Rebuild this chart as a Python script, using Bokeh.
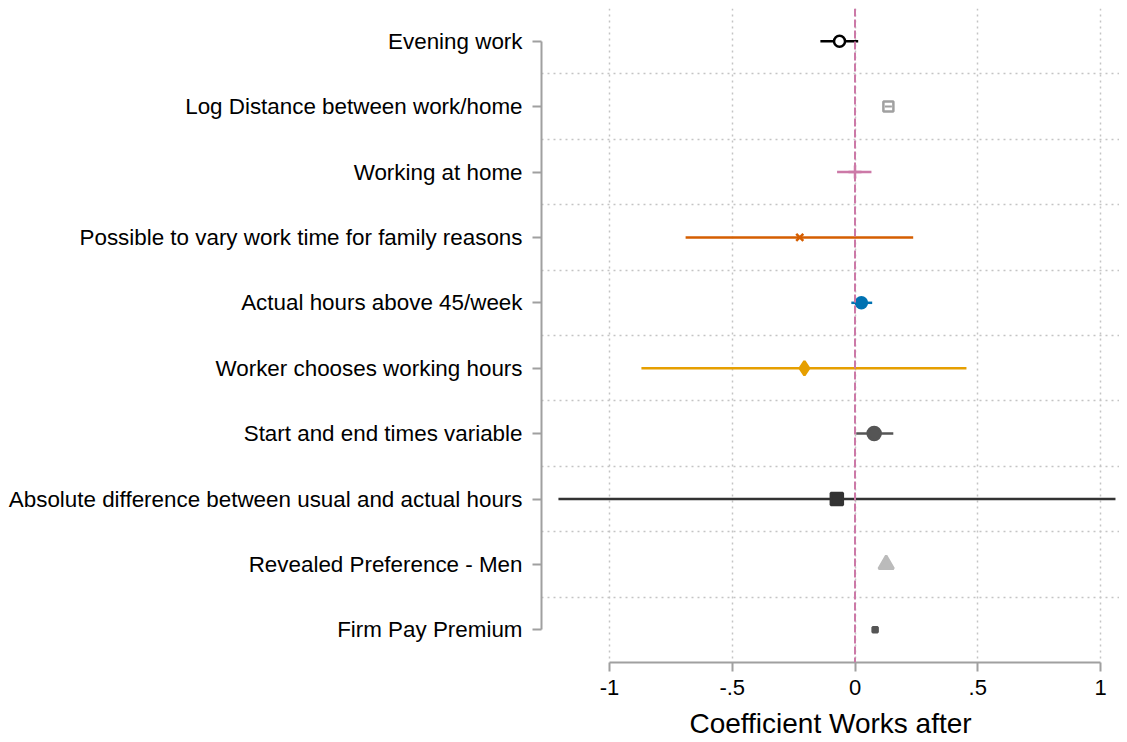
from bokeh.plotting import figure
from bokeh.models import ColumnDataSource, FixedTicker, Range1d, Span
from bokeh.embed import file_html
from bokeh.resources import INLINE

labels = ["Evening work", "Log Distance between work/home", "Working at home",
          "Possible to vary work time for family reasons", "Actual hours above 45/week",
          "Worker chooses working hours", "Start and end times variable",
          "Absolute difference between usual and actual hours",
          "Revealed Preference - Men", "Firm Pay Premium"]
coef = [-0.063, 0.136, 0.0, -0.225, 0.026, -0.206, 0.078, -0.074, 0.127, 0.082]
ci_lo = [-0.141, 0.136, -0.073, -0.69, -0.015, -0.87, 0.005, -1.208, 0.127, 0.082]
ci_hi = [0.013, 0.136, 0.067, 0.237, 0.07, 0.454, 0.156, 1.061, 0.127, 0.082]
colors = ["#000000", "#a0a0a0", "#cc79a7", "#d55e00", "#0072b2",
          "#e69f00", "#555555", "#333333", "#bbbbbb", "#555555"]
markers = ["circle", "square", "cross", "x", "circle",
           "diamond", "circle", "square", "triangle", "square_x"]
sizes = [11, 10, 13, 10, 11, 14, 13, 12, 15, 5]
hollow = [True, True, False, False, False, False, False, False, False, False]
xticks = [-1, -0.5, 0, 0.5, 1]
xtick_labels = ["-1", "-.5", "0", ".5", "1"]

FONT = "Liberation Sans"
AXIS_GRAY = "#a0a0a0"

p = figure(frame_width=578, frame_height=654,
           x_range=Range1d(-1.277, 1.0774), y_range=Range1d(10.5, 0.5),
           min_border_left=541, min_border_right=0, min_border_top=8, min_border_bottom=0,
           output_backend="svg", toolbar_location=None, tools="")
p.outline_line_color = None
p.background_fill_color = "white"

# grids: dotted, vertical at ticks, horizontal between rows
p.xgrid.ticker = FixedTicker(ticks=xticks)
p.ygrid.ticker = FixedTicker(ticks=[i + 1.5 for i in range(len(labels) - 1)])
for g in (p.xgrid, p.ygrid):
    g.grid_line_color = "#c4c4c4"
    g.grid_line_dash = "2 4"
    g.grid_line_width = 1.5

# x axis (stata style, only spans -1..1)
xa = p.xaxis[0]
xa.ticker = FixedTicker(ticks=xticks)
xa.major_label_overrides = {t: s for t, s in zip(xticks, xtick_labels)}
xa.bounds = (-1, 1)
xa.axis_label = "Coefficient Works after"
xa.axis_label_text_font = FONT
xa.axis_label_text_font_size = "28px"
xa.axis_label_text_font_style = "normal"
xa.axis_label_text_color = "black"
xa.axis_label_standoff = 10
xa.major_label_text_font = FONT
xa.major_label_text_font_size = "22px"
xa.major_label_text_color = "black"
xa.major_label_standoff = 8

# y axis with row names
ya = p.yaxis[0]
ya.ticker = FixedTicker(ticks=list(range(1, len(labels) + 1)))
ya.major_label_overrides = {i + 1: lab for i, lab in enumerate(labels)}
ya.bounds = (1, len(labels))
ya.major_label_text_font = FONT
ya.major_label_text_font_size = "22.4px"
ya.major_label_text_color = "black"
ya.major_label_standoff = 10

for ax in (xa, ya):
    ax.axis_line_color = AXIS_GRAY
    ax.axis_line_width = 2
    ax.major_tick_line_color = AXIS_GRAY
    ax.major_tick_line_width = 2
    ax.major_tick_in = 0
    ax.major_tick_out = 9
    ax.minor_tick_line_color = None

# zero reference line
p.add_layout(Span(location=0, dimension="height", line_color="#cc79a7",
                  line_dash="8 3", line_width=2))

rows = list(range(1, len(labels) + 1))
src = ColumnDataSource(data=dict(y=rows, coef=coef, lo=ci_lo, hi=ci_hi, color=colors,
                                 marker=markers, size=sizes,
                                 fill=["white" if h else c for h, c in zip(hollow, colors)]))

p.segment(x0="lo", x1="hi", y0="y", y1="y", line_color="color", line_width=2.5, source=src)
p.scatter(x="coef", y="y", marker="marker", size="size", line_color="color",
          fill_color="fill", line_width=2.5, source=src)
# inner bar of the second marker
p.scatter(x=[coef[1]], y=[rows[1]], marker="dash", size=7, line_color=colors[1], line_width=2)

open("out.html", "w").write(file_html(p, INLINE))
